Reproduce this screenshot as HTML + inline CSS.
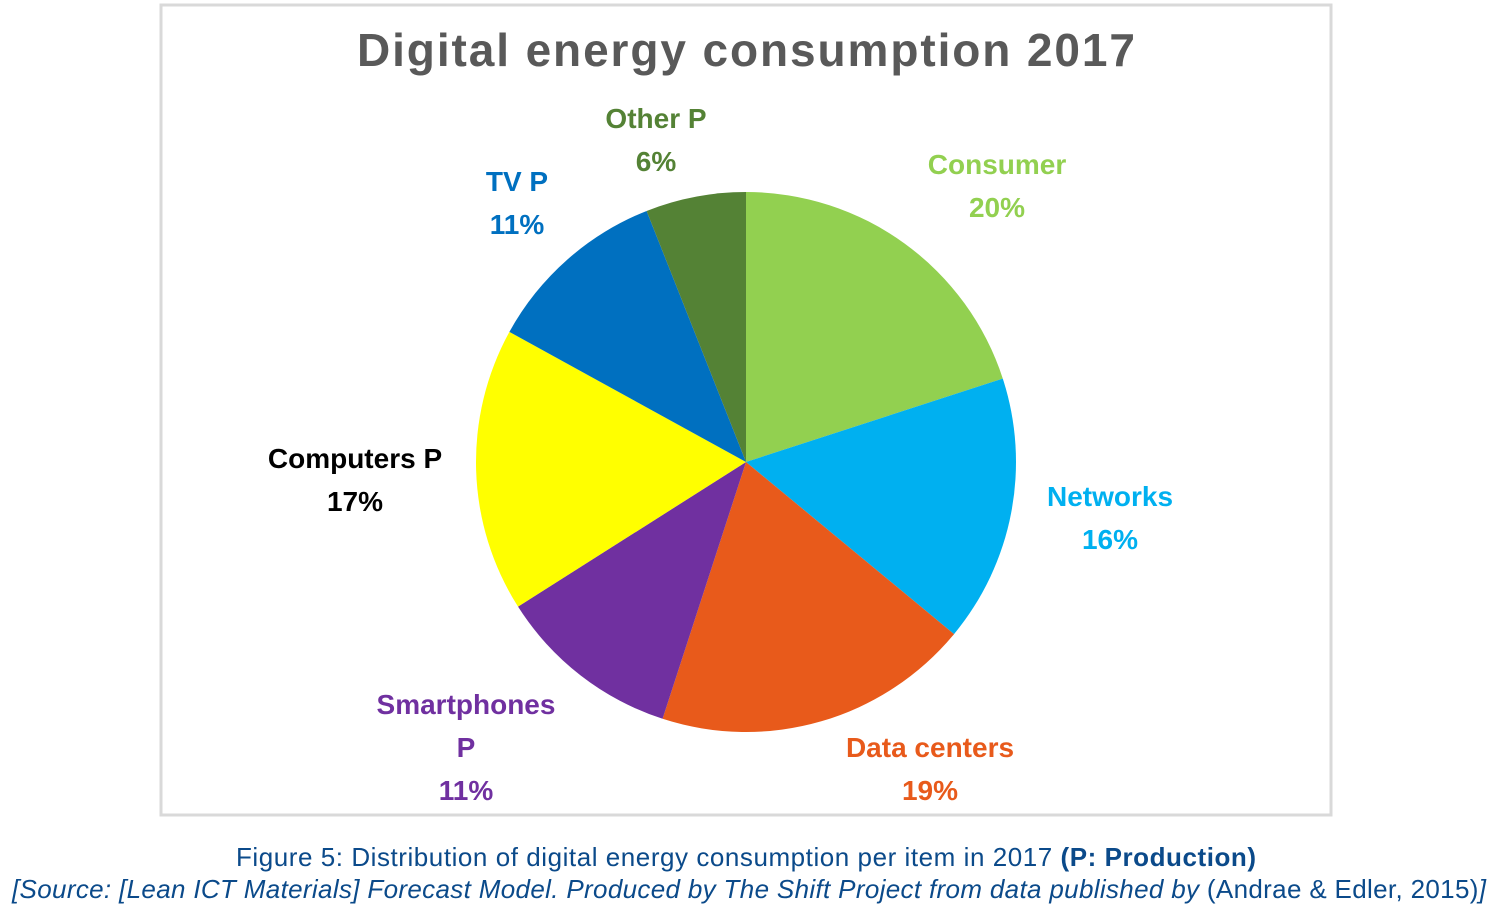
<!DOCTYPE html>
<html><head><meta charset="utf-8"><style>
html,body{margin:0;padding:0;background:#fff;width:1504px;height:920px;overflow:hidden}
svg{display:block;font-family:"Liberation Sans",sans-serif}
</style></head><body>
<svg id="chart" width="1504" height="920">
<rect x="161" y="5" width="1170" height="810" fill="#fff" stroke="#d9d9d9" stroke-width="3"/>
<text x="746" y="66" text-anchor="middle" font-size="46" font-weight="bold" fill="#595959" textLength="778">Digital energy consumption 2017</text>
<g id="slices"></g>
<g id="labels"></g>
<text x="746" y="866" text-anchor="middle" font-size="26" fill="#0b4a8a" textLength="1020">Figure 5: Distribution of digital energy consumption per item in 2017 <tspan font-weight="bold">(P: Production)</tspan></text>
<text x="12" y="898" font-size="26" font-style="italic" fill="#0b4a8a" textLength="1474">[Source: [Lean ICT Materials] Forecast Model. Produced by The Shift Project from data published by <tspan font-style="normal">(Andrae &amp; Edler, 2015)</tspan>]</text>
</svg>
<script>
const categories=["Consumer","Networks","Data centers","Smartphones P","Computers P","TV P","Other P"];
const values=[20,16,19,11,17,11,6];
const colors=["#92d050","#00b0f0","#e85a1b","#7030a0","#ffff00","#0070c0","#548235"];
const labelColors=["#92d050","#00b0f0","#e85a1b","#7030a0","#000000","#0070c0","#548235"];
const labelLines=[["Consumer"],["Networks"],["Data centers"],["Smartphones","P"],["Computers P"],["TV P"],["Other P"]];
const labelAnchors=[[997,174],[1110,506],[930,757],[466,714],[355,468],[517,191],[656,128]];
const cx=746,cy=462,r=270;
const ns="http://www.w3.org/2000/svg";
const total=values.reduce((a,b)=>a+b,0);
const gS=document.getElementById('slices'),gL=document.getElementById('labels');
function pt(a,rad){return [cx+rad*Math.sin(a),cy-rad*Math.cos(a)];}
let acc=0;
values.forEach((v,i)=>{
  const a0=acc/total*2*Math.PI;acc+=v;const a1=acc/total*2*Math.PI;
  const p0=pt(a0,r),p1=pt(a1,r);
  const p=document.createElementNS(ns,'path');
  p.setAttribute('d',`M${cx},${cy}L${p0[0]},${p0[1]}A${r},${r} 0 ${a1-a0>Math.PI?1:0} 1 ${p1[0]},${p1[1]}Z`);
  p.setAttribute('fill',colors[i]);
  
  
  gS.appendChild(p);
  const lines=labelLines[i].concat([v+"%"]);
  const t=document.createElementNS(ns,'text');
  
  
  t.setAttribute('text-anchor','middle');
  t.setAttribute('font-size','28');
  t.setAttribute('font-weight','bold');
  t.setAttribute('fill',labelColors[i]);
  const [lx,ly]=labelAnchors[i];
  lines.forEach((s,k)=>{const ts=document.createElementNS(ns,'tspan');ts.setAttribute('x',lx);ts.setAttribute('y',ly+k*43);ts.textContent=s;t.appendChild(ts);});
  gL.appendChild(t);
});
</script>
</body></html>
